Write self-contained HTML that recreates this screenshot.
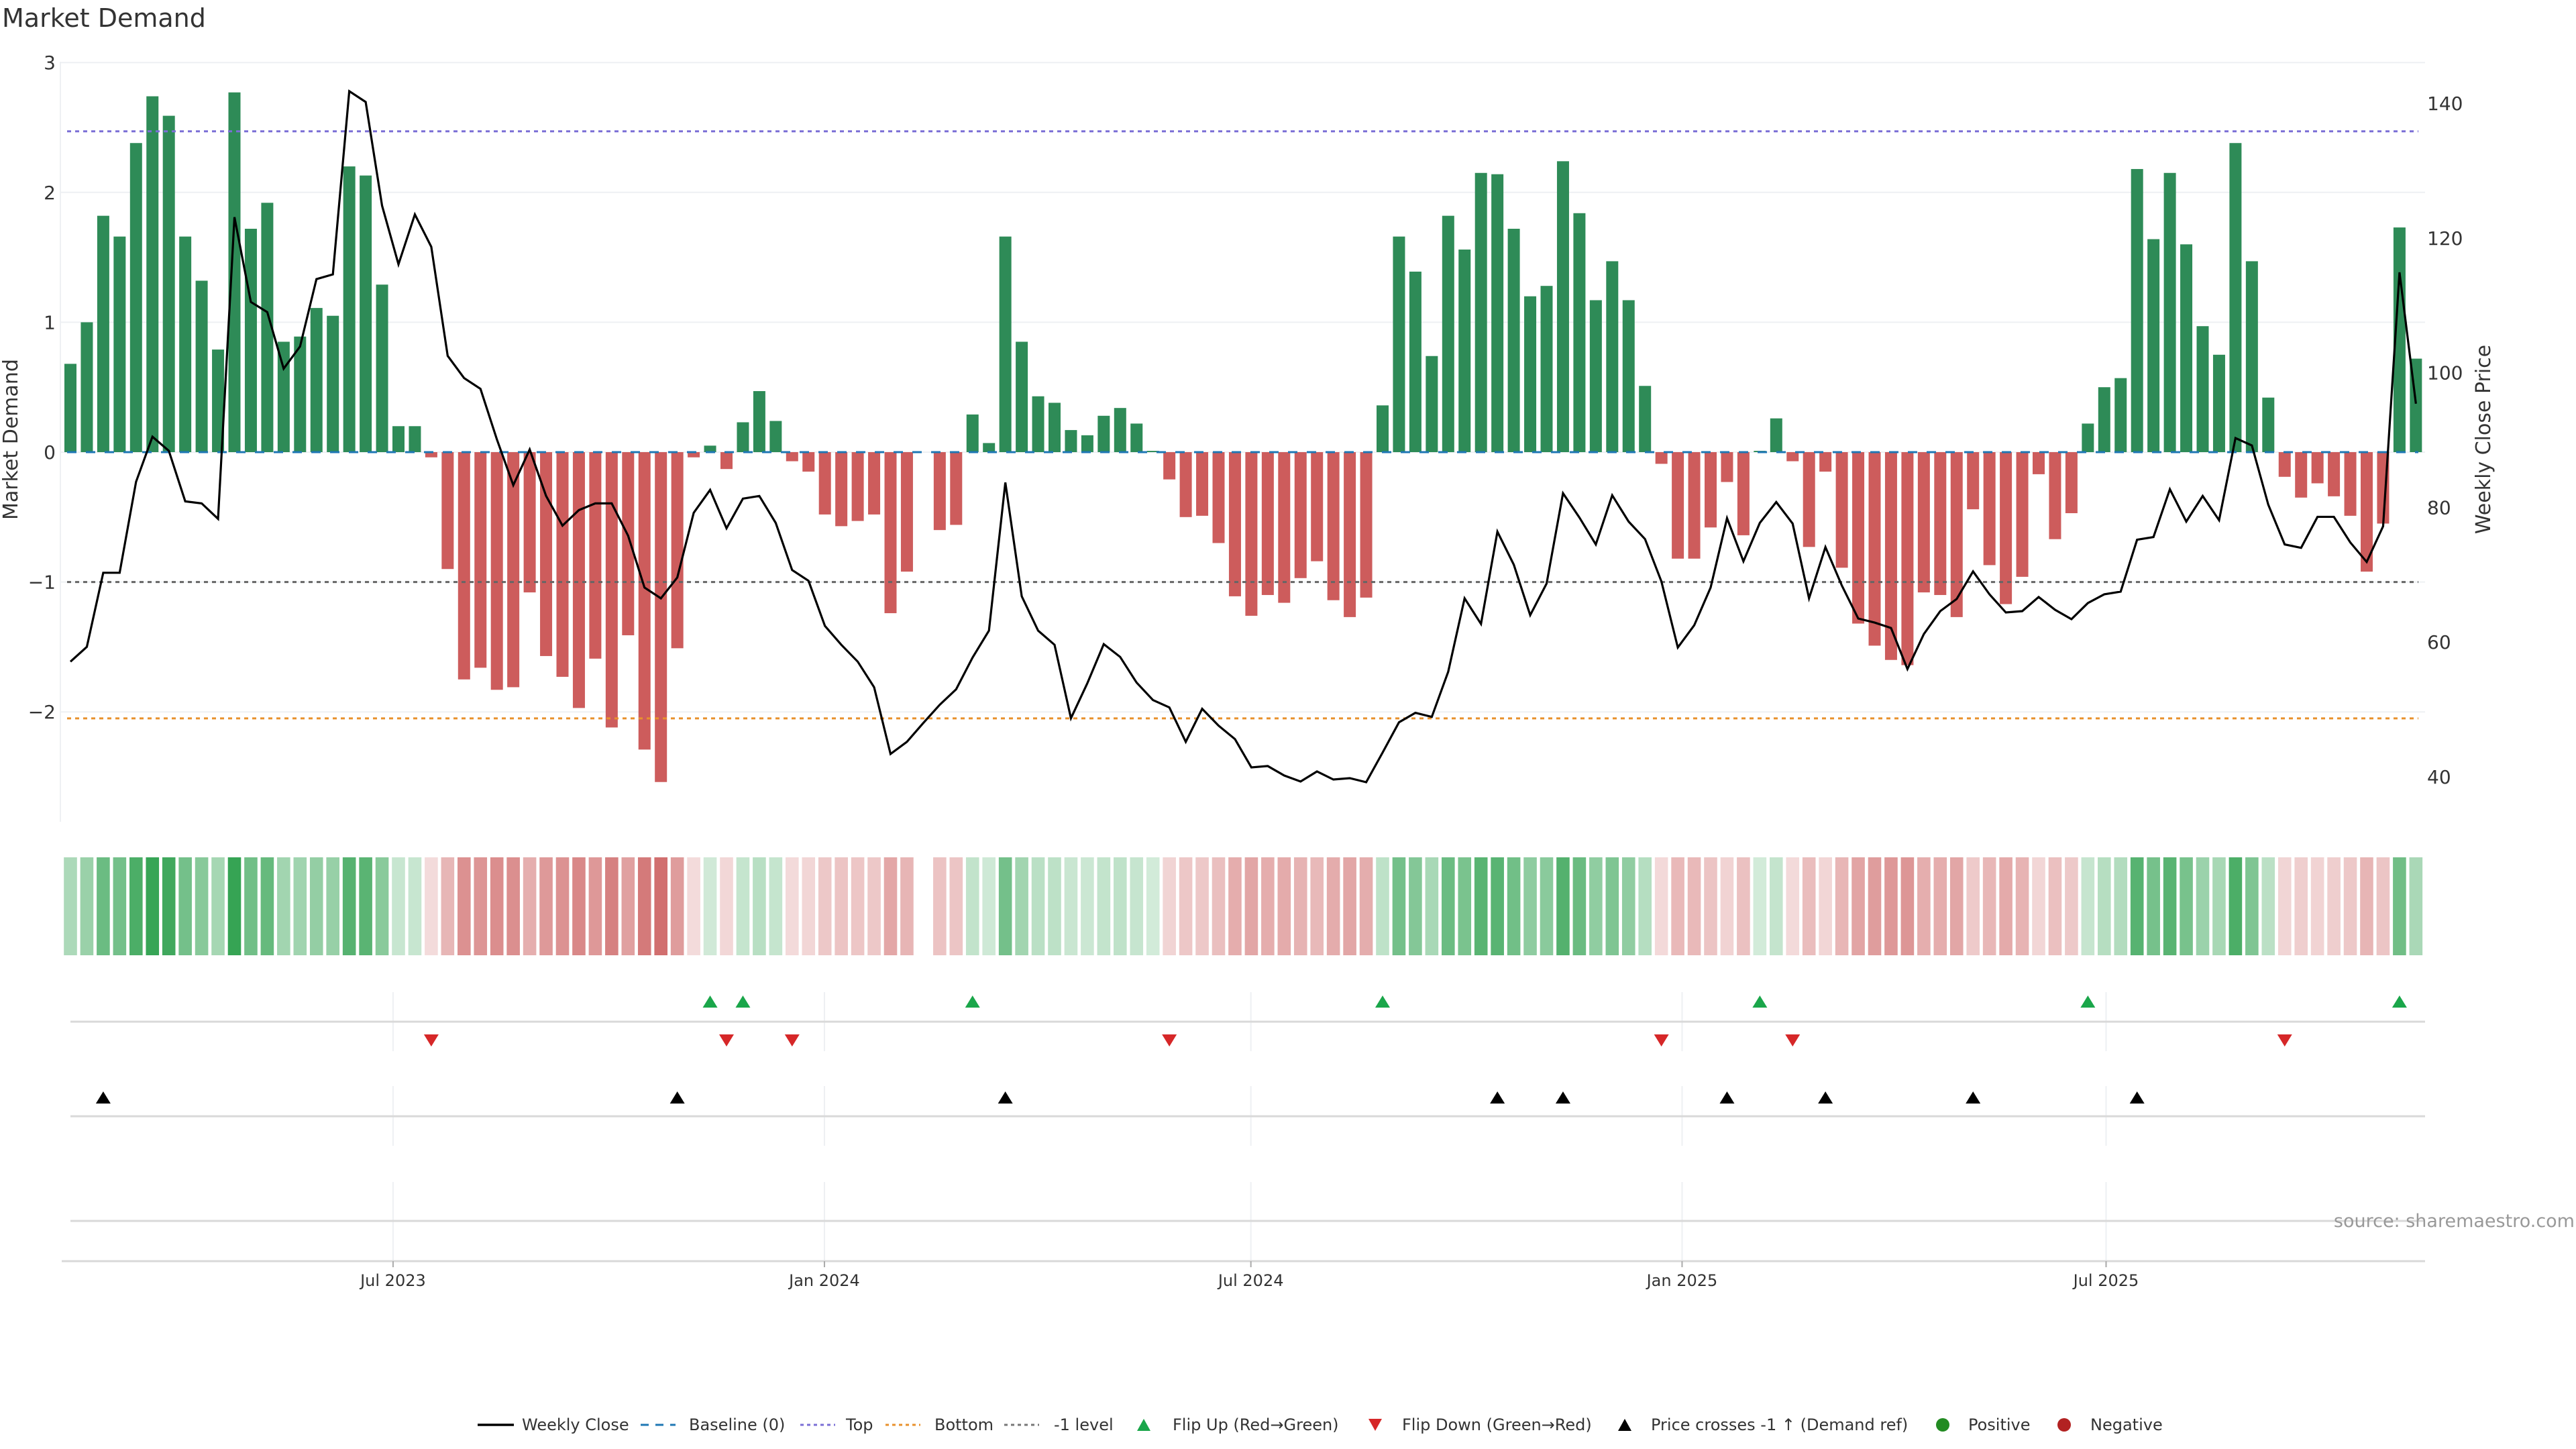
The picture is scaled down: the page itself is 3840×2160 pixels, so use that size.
<!DOCTYPE html>
<html><head><meta charset="utf-8"><style>
html,body{margin:0;padding:0;background:#fff;}
svg{display:block;font-family:"DejaVu Sans","Liberation Sans",sans-serif;}
</style></head><body>
<svg id="chart" width="3840" height="2160" viewBox="0 0 3840 2160" xmlns="http://www.w3.org/2000/svg">
<rect x="0" y="0" width="3840" height="2160" fill="#fff"/>
<text x="3" y="40" font-size="38" fill="#333">Market Demand</text>
<g id="grid"></g><g id="bars"></g><g id="levels"></g><g id="line"></g><g id="axes"></g><g id="heat"></g><g id="markers"></g><g id="legend"></g>
<text transform="translate(26,655) rotate(-90)" text-anchor="middle" font-size="30" fill="#333">Market Demand</text>
<text transform="translate(3712,655) rotate(-90)" text-anchor="middle" font-size="30" fill="#333">Weekly Close Price</text>
<text x="3838" y="1829" text-anchor="end" font-size="27" fill="#999">source: sharemaestro.com</text>
</svg>
<script>
const demand = [0.68,1.00,1.82,1.66,2.38,2.74,2.59,1.66,1.32,0.79,2.77,1.72,1.92,0.85,0.89,1.11,1.05,2.20,2.13,1.29,
0.20,0.20,-0.04,-0.90,-1.75,-1.66,-1.83,-1.81,-1.08,-1.57,-1.73,-1.97,-1.59,-2.12,-1.41,-2.29,-2.54,-1.51,-0.04,0.05,
-0.13,0.23,0.47,0.24,-0.07,-0.15,-0.48,-0.57,-0.53,-0.48,-1.24,-0.92,0,-0.60,-0.56,0.29,0.07,1.66,0.85,0.43,
0.38,0.17,0.13,0.28,0.34,0.22,0.01,-0.21,-0.50,-0.49,-0.70,-1.11,-1.26,-1.10,-1.16,-0.97,-0.84,-1.14,-1.27,-1.12,
0.36,1.66,1.39,0.74,1.82,1.56,2.15,2.14,1.72,1.20,1.28,2.24,1.84,1.17,1.47,1.17,0.51,-0.09,-0.82,-0.82,
-0.58,-0.23,-0.64,0.01,0.26,-0.07,-0.73,-0.15,-0.89,-1.32,-1.49,-1.60,-1.64,-1.08,-1.10,-1.27,-0.44,-0.87,-1.17,-0.96,
-0.17,-0.67,-0.47,0.22,0.50,0.57,2.18,1.64,2.15,1.60,0.97,0.75,2.38,1.47,0.42,-0.19,-0.35,-0.24,-0.34,-0.49,
-0.92,-0.55,1.73,0.72];
const price = [57.1,59.3,70.3,70.3,83.8,90.5,88.4,80.9,80.6,78.3,123.1,110.5,109.0,100.6,103.9,113.9,114.6,141.8,140.2,124.8,
116.1,123.5,118.7,102.5,99.2,97.6,90.1,83.3,88.6,81.7,77.3,79.6,80.6,80.6,75.8,68.1,66.5,69.6,79.2,82.6,
76.9,81.3,81.7,77.7,70.7,69.1,62.4,59.6,57.1,53.3,43.4,45.2,48.0,50.7,53.0,57.7,61.7,83.7,66.8,61.7,
59.6,48.7,53.9,59.7,57.8,54.0,51.4,50.3,45.2,50.1,47.6,45.6,41.4,41.6,40.2,39.3,40.8,39.6,39.8,39.2,
43.6,48.1,49.5,48.9,55.6,66.5,62.7,76.4,71.5,64.0,68.7,82.1,78.5,74.5,81.8,77.9,75.3,69.0,59.2,62.5,
68.1,78.4,72.0,77.7,80.8,77.6,66.5,74.1,68.4,63.5,62.9,62.1,56.0,61.2,64.6,66.4,70.5,67.1,64.4,64.6,
66.7,64.8,63.4,65.8,67.1,67.5,75.2,75.6,82.7,77.9,81.7,78.1,90.3,89.2,80.4,74.5,74.0,78.6,78.6,74.8,
71.9,77.2,114.9,95.4];
const leftTicks = [3,2,1,0,-1,-2];
const leftTickLabels = ["3","2","1","0","\u22121","\u22122"];
const rightTicks = [140,120,100,80,60,40];
const levelTop = 2.47, levelBottom = -2.05, levelMinus1 = -1;
const refPrice = 69.0;
const monthIdx = [19.67,45.97,71.97,98.26,124.11];
const monthLabels = ["Jul 2023","Jan 2024","Jul 2024","Jan 2025","Jul 2025"];

const NS="http://www.w3.org/2000/svg";
const X0=105, DX=24.45, PL=90, PR=3615;
const xOf=i=>X0+i*DX;
const yL=v=>674-v*193.6;
const yR=p=>154+(140-p)*10.04;
function mk(parent,tag,attrs){const e=document.createElementNS(NS,tag);for(const k in attrs)e.setAttribute(k,attrs[k]);document.getElementById(parent).appendChild(e);return e;}

leftTicks.forEach((t,k)=>{
  const g=mk('grid','line',{x1:PL,x2:PR,y1:yL(t),y2:yL(t),stroke:'#eef0f3','stroke-width':2});
  
  
  const tx=mk('axes','text',{x:83,y:yL(t)+10,'text-anchor':'end','font-size':28,fill:'#333'});
  tx.textContent=leftTickLabels[k];
  
  
});
rightTicks.forEach(t=>{
  const tx=mk('axes','text',{x:3618,y:yR(t)+10,'font-size':28,fill:'#333'});
  tx.textContent=String(t);
  
  
});
const ax=mk('axes','line',{x1:PL,x2:PL,y1:92,y2:1225,stroke:'#eef0f3','stroke-width':2});



demand.forEach((v,i)=>{
  if(v===0)return;
  const y0=yL(0), y1=yL(v);
  const r=mk('bars','rect',{x:xOf(i)-9,y:Math.min(y0,y1),width:18,height:Math.max(1,Math.abs(y1-y0)),fill:v>0?'#2e8b57':'#cd5c5c'});
  
  
});
[[0,'#1f77b4','14,14'],[levelTop,'#7b6fd6','6,6'],[levelBottom,'#e8912d','6,6'],[levelMinus1,'#666','6,6']].forEach(([v,c,d],k)=>{
  const l=mk('levels','line',{x1:PL+10,x2:PR-10,y1:yL(v),y2:yL(v),stroke:c,'stroke-width':3,'stroke-dasharray':d});
  
  
});
const pl=mk('line','polyline',{points:price.map((p,i)=>xOf(i)+','+yR(p)).join(' '),fill:'none',stroke:'#000','stroke-width':3.2,'stroke-linejoin':'miter'});



demand.forEach((v,i)=>{
  if(v===0)return;
  const t=Math.min(1,0.22+0.78*Math.abs(v)/2.8);
  const base=v>0?[52,163,83]:[205,100,100];
  const c=base.map(b=>Math.round(255+(b-255)*t));
  const r=mk('heat','rect',{x:xOf(i)-9.8,y:1278,width:19.6,height:146,fill:`rgb(${c.join(',')})`});
  
  
});

[[1479,1567],[1619,1708],[1762,1880]].forEach(([a,b])=>{
  monthIdx.forEach(m=>{
    const l=mk('markers','line',{x1:xOf(m),x2:xOf(m),y1:a,y2:b,stroke:'#eef0f3','stroke-width':2});
    
    
  });
});
[1523,1664,1820].forEach(y=>{
  const l=mk('markers','line',{x1:105,x2:PR,y1:y,y2:y,stroke:'#d9d9d9','stroke-width':3});
  
  
});
const bax=mk('markers','line',{x1:92,x2:PR,y1:1880,y2:1880,stroke:'#d9d9d9','stroke-width':3});


monthIdx.forEach((m,k)=>{
  const tk=mk('markers','line',{x1:xOf(m),x2:xOf(m),y1:1880,y2:1889,stroke:'#aaa','stroke-width':2});
  
  
  const tx=mk('markers','text',{x:xOf(m),y:1917,'text-anchor':'middle','font-size':24,fill:'#333'});
  tx.textContent=monthLabels[k];
  
  
});
function tri(x,y,up,color,name){
  const h=9,w=11;
  const pts=up?`${x-w},${y+h} ${x+w},${y+h} ${x},${y-h}`:`${x-w},${y-h} ${x+w},${y-h} ${x},${y+h}`;
  const p=mk('markers','polygon',{points:pts,fill:color});
  
  
}
for(let i=1;i<demand.length;i++){
  const pos=demand[i]>0, prev=demand[i-1]>0;
  if(pos&&!prev) tri(xOf(i),1493,true,'#1aa64a','flip-up-marker');
  if(!pos&&prev) tri(xOf(i),1551,false,'#d62728','flip-down-marker');
  if(price[i]>=refPrice&&price[i-1]<refPrice) tri(xOf(i),1636,true,'#000','price-cross-marker');
}

const ly=2124;
function ltext(x,s,name){const t=mk('legend','text',{x:x,y:ly+8,'font-size':24,fill:'#333'});t.textContent=s;}
function lline(x1,x2,c,d,w,name){const l=mk('legend','line',{x1:x1,x2:x2,y1:ly,y2:ly,stroke:c,'stroke-width':w,'stroke-dasharray':d});}
lline(712,766,'#000','none',3.5,'legend-weekly-close-swatch'); ltext(778,'Weekly Close','legend-weekly-close');
lline(955,1007,'#1f77b4','12,10',3,'legend-baseline-swatch'); ltext(1027,'Baseline (0)','legend-baseline');
lline(1193,1245,'#7b6fd6','5,5',3,'legend-top-swatch'); ltext(1261,'Top','legend-top');
lline(1320,1372,'#e8912d','5,5',3,'legend-bottom-swatch'); ltext(1393,'Bottom','legend-bottom');
lline(1497,1549,'#777','5,5',3,'legend-minus-one-swatch'); ltext(1571,'-1 level','legend-minus-one');
(function(){
  const items=[[1705,true,'#1aa64a','legend-flip-up-swatch'],[2050,false,'#d62728','legend-flip-down-swatch'],[2422,true,'#000','legend-price-cross-swatch']];
  items.forEach(([x,up,c,n])=>{
    const h=9,w=10,y=ly;
    const pts=up?`${x-w},${y+h} ${x+w},${y+h} ${x},${y-h}`:`${x-w},${y-h} ${x+w},${y-h} ${x},${y+h}`;
    const p=mk('legend','polygon',{points:pts,fill:c});
    
    
  });
})();
ltext(1748,'Flip Up (Red\u2192Green)','legend-flip-up');
ltext(2090,'Flip Down (Green\u2192Red)','legend-flip-down');
ltext(2461,'Price crosses -1 \u2191 (Demand ref)','legend-price-cross');
const d1=mk('legend','circle',{cx:2896,cy:ly,r:10,fill:'#228b22'});


ltext(2934,'Positive','legend-positive');
const d2=mk('legend','circle',{cx:3077,cy:ly,r:10,fill:'#b22222'});


ltext(3116,'Negative','legend-negative');
</script>
</body></html>
